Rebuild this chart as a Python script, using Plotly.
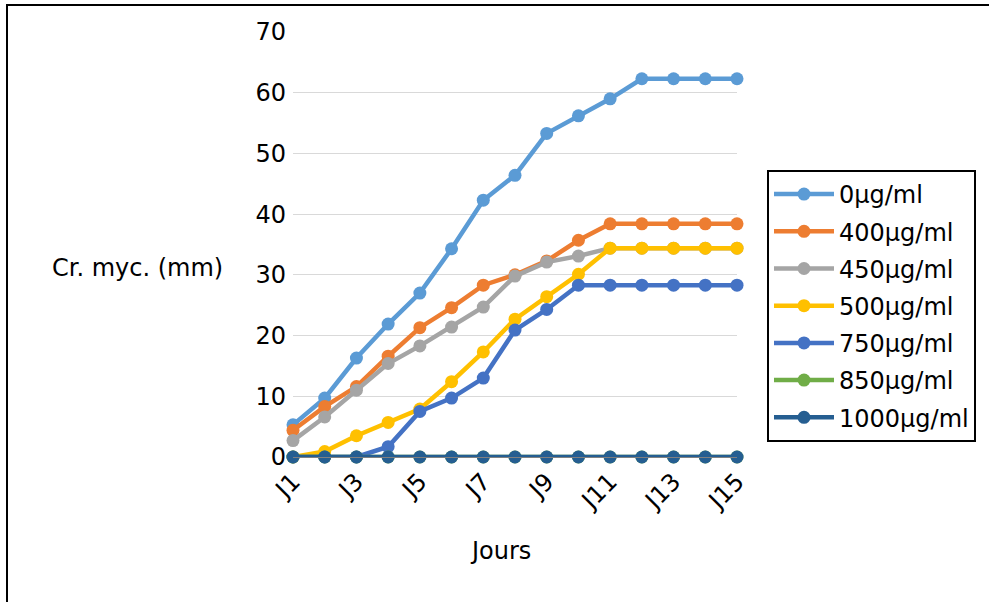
import plotly.graph_objects as go

# Days of observation
jours = [f"J{i}" for i in range(1, 16)]

# Mycelial growth (mm) per concentration
c0 = [5.3, 9.7, 16.3, 21.9, 27.0, 34.3, 42.3, 46.4, 53.3, 56.2, 59.0, 62.3, 62.3, 62.3, 62.3]
c400 = [4.4, 8.3, 11.6, 16.6, 21.3, 24.6, 28.3, 30.0, 32.3, 35.7, 38.4, 38.4, 38.4, 38.4, 38.4]
c450 = [2.7, 6.6, 11.0, 15.4, 18.3, 21.4, 24.7, 29.8, 32.1, 33.1, 34.4, 34.4, 34.4, 34.4, 34.4]
c500 = [0.0, 0.9, 3.5, 5.7, 7.9, 12.4, 17.3, 22.7, 26.4, 30.1, 34.4, 34.4, 34.4, 34.4, 34.4]
c750 = [0.0, 0.0, 0.0, 1.7, 7.5, 9.7, 13.0, 20.9, 24.3, 28.3, 28.3, 28.3, 28.3, 28.3, 28.3]
c850 = [0.0] * 15
c1000 = [0.0] * 15

series = [
    ("0µg/ml", c0, "#5B9BD5"),
    ("400µg/ml", c400, "#ED7D31"),
    ("450µg/ml", c450, "#A5A5A5"),
    ("500µg/ml", c500, "#FFC000"),
    ("750µg/ml", c750, "#4472C4"),
    ("850µg/ml", c850, "#70AD47"),
    ("1000µg/ml", c1000, "#255E91"),
]

FONT = "DejaVu Sans"
FS = 24
fig = go.Figure()
for i, (name, vals, color) in enumerate(series):
    fig.add_trace(go.Scatter(
        x=jours, y=vals, name=name, mode="lines+markers",
        line=dict(color=color, width=4.5),
        marker=dict(color=color, size=13),
        cliponaxis=False, legendgroup=f"g{i}",
    ))

# Plot area in pixels: x 293..737, y 32..457
L, R, T, B = 293, 989 - 737, 32, 602 - 457
W, H = 737 - 293, 457 - 32

def px(x):
    return (x - L) / W

def py(y):
    return (457 - y) / H

fig.update_layout(
    width=989, height=602,
    margin=dict(l=L, r=R, t=T, b=B, pad=0),
    paper_bgcolor="white", plot_bgcolor="white",
    font=dict(family=FONT, size=FS, color="black"),
    showlegend=True,
    legend=dict(
        x=px(767), y=py(170), xanchor="left", yanchor="top",
        bordercolor="black", borderwidth=2,
        font=dict(family=FONT, size=FS, color="black"),
        traceorder="grouped", tracegroupgap=3, itemwidth=60,
    ),
    xaxis=dict(
        type="category", range=[0, 14],
        tickvals=jours[::2], ticktext=jours[::2],
        tickangle=-45, ticks="", showgrid=False,
        showline=True, linecolor="#808080", linewidth=1, layer="above traces",
        tickfont=dict(family=FONT, size=FS, color="black"),
        fixedrange=True,
    ),
    yaxis=dict(
        range=[0, 70], dtick=10, showgrid=True, gridcolor="#d9d9d9", gridwidth=1,
        zeroline=False, showline=False, ticks="", ticklabelstandoff=6,
        tickfont=dict(family=FONT, size=FS, color="black"),
        fixedrange=True,
    ),
    annotations=[
        dict(text="Cr. myc. (mm)", x=px(137), y=py(268), xref="paper", yref="paper",
             xanchor="center", yanchor="middle", showarrow=False,
             font=dict(family=FONT, size=FS, color="black")),
        dict(text="Jours", x=px(500), y=py(551), xref="paper", yref="paper",
             xanchor="center", yanchor="middle", showarrow=False,
             font=dict(family=FONT, size=FS, color="black")),
    ],
    shapes=[
        dict(type="rect", xref="paper", yref="paper",
             x0=px(7), x1=px(1000), y0=py(615), y1=py(5),
             line=dict(color="black", width=2), fillcolor="rgba(0,0,0,0)", layer="below"),
    ],
)

fig.write_html("out.html")
